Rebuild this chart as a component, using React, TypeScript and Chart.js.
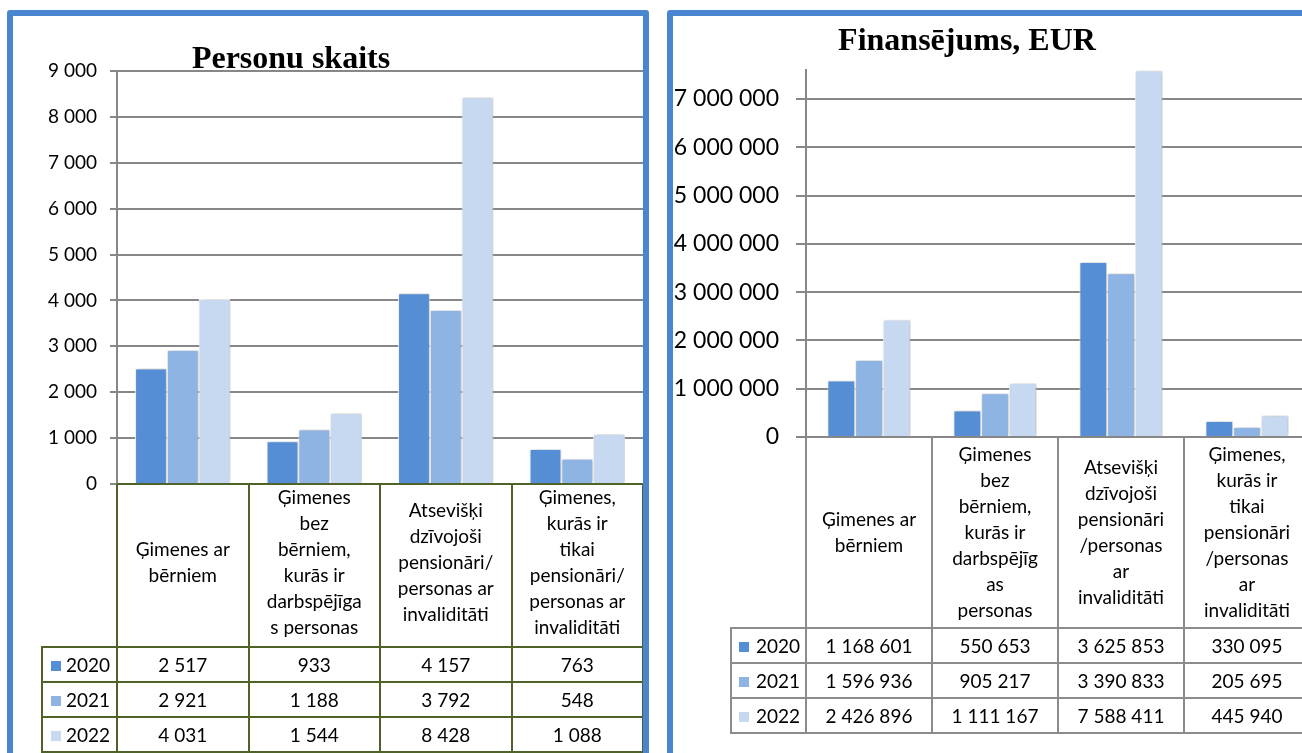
import React, { useEffect, useRef } from "react";
import { Chart, registerables } from "chart.js";

Chart.register(...registerables);

// ---------- DATA ----------
const years = ["2020", "2021", "2022"];
const seriesColors = ["#558ED5", "#8EB4E3", "#C6D9F1"];

const personsCategories: string[][] = [
  ["Ģimenes ar", "bērniem"],
  ["Ģimenes", "bez", "bērniem,", "kurās ir", "darbspējīga", "s personas"],
  ["Atsevišķi", "dzīvojoši", "pensionāri/", "personas ar", "invaliditāti"],
  ["Ģimenes,", "kurās ir", "tikai", "pensionāri/", "personas ar", "invaliditāti"],
];
const persons2020 = [2517, 933, 4157, 763];
const persons2021 = [2921, 1188, 3792, 548];
const persons2022 = [4031, 1544, 8428, 1088];
const personsAxisMax = 9000;
const personsTicks = [0, 1000, 2000, 3000, 4000, 5000, 6000, 7000, 8000, 9000];

const fundingCategories: string[][] = [
  ["Ģimenes ar", "bērniem"],
  ["Ģimenes", "bez", "bērniem,", "kurās ir", "darbspējīg", "as", "personas"],
  ["Atsevišķi", "dzīvojoši", "pensionāri", "/personas", "ar", "invaliditāti"],
  ["Ģimenes,", "kurās ir", "tikai", "pensionāri", "/personas", "ar", "invaliditāti"],
];
const funding2020 = [1168601, 550653, 3625853, 330095];
const funding2021 = [1596936, 905217, 3390833, 205695];
const funding2022 = [2426896, 1111167, 7588411, 445940];
const fundingAxisMax = 7600000;
const fundingTicks = [0, 1000000, 2000000, 3000000, 4000000, 5000000, 6000000, 7000000];

const personsTitle = "Personu skaits";
const fundingTitle = "Finansējums, EUR";

// ---------- HELPERS ----------
const fmt = (v: number) => String(Math.round(v)).replace(/\B(?=(\d{3})+(?!\d))/g, " ");
const FONT = "Lato";

const shadowPlugin = {
  id: "barShadow",
  beforeDatasetsDraw(chart: any) {
    const ctx = chart.ctx;
    ctx.save();
    ctx.shadowColor = "rgba(0,0,0,0.28)";
    ctx.shadowBlur = 4;
    ctx.shadowOffsetX = 1;
    ctx.shadowOffsetY = 0;
  },
  afterDatasetsDraw(chart: any) {
    chart.ctx.restore();
  },
};

const tablePlugin = {
  id: "dataTable",
  afterDraw(chart: any, _args: any, o: any) {
    const ctx = chart.ctx;
    const xs = chart.scales.x;
    const area = chart.chartArea;
    const n = o.headers.length;
    const w = (area.right - area.left) / n;
    const bounds: number[] = [];
    for (let i = 0; i <= n; i++) bounds.push(xs.getPixelForValue(0) - w / 2 + i * w);
    const top = area.bottom;
    const hb = o.headerBottom;
    const rh = o.rowHeight;
    const rows = o.rows.length;
    const bottom = hb + rh * rows;

    ctx.save();
    ctx.strokeStyle = o.lineColor;
    ctx.lineWidth = 2;
    const line = (x1: number, y1: number, x2: number, y2: number) => {
      ctx.beginPath();
      ctx.moveTo(x1, y1);
      ctx.lineTo(x2, y2);
      ctx.stroke();
    };
    bounds.forEach((x) => line(Math.round(x), top, Math.round(x), bottom + 1));
    line(o.legendLeft, hb - 1, o.legendLeft, bottom + 1);
    if (o.drawTop) line(area.left, top, area.right, top);
    for (let r = 0; r <= rows; r++) line(o.legendLeft - 1, hb + rh * r, area.right, hb + rh * r);

    ctx.fillStyle = "#000";
    ctx.font = `${o.fontSize}px ${FONT}`;
    ctx.textAlign = "center";
    ctx.textBaseline = "middle";
    const hc = (top + hb) / 2 + o.headerShift;
    o.headers.forEach((lines: string[], i: number) => {
      const cx = xs.getPixelForValue(i);
      const y0 = hc - ((lines.length - 1) * o.lineHeight) / 2;
      lines.forEach((t: string, k: number) => ctx.fillText(t, cx, y0 + k * o.lineHeight));
    });
    o.rows.forEach((vals: number[], r: number) => {
      const cy = hb + rh * r + rh / 2 + 1;
      ctx.fillStyle = o.colors[r];
      ctx.fillRect(o.swatchX, Math.round(cy - 5), 10, 10);
      ctx.fillStyle = "#000";
      ctx.textAlign = "left";
      ctx.fillText(o.labels[r], o.labelX, cy);
      ctx.textAlign = "center";
      vals.forEach((v: number, i: number) => ctx.fillText(fmt(v), xs.getPixelForValue(i), cy));
    });
    ctx.restore();
  },
};

const titlePlugin = {
  id: "fixedTitle",
  afterDraw(chart: any, _args: any, o: any) {
    const ctx = chart.ctx;
    ctx.save();
    ctx.fillStyle = "#000";
    ctx.font = `bold 32px "Liberation Serif", "Times New Roman", serif`;
    ctx.textAlign = "center";
    ctx.textBaseline = "alphabetic";
    ctx.fillText(o.text, o.x, o.y);
    ctx.restore();
  },
};

function buildChart(canvas: HTMLCanvasElement, cfg: any) {
  return new Chart(canvas, {
    type: "bar",
    data: {
      labels: cfg.categories.map((c: string[]) => c.join(" ")),
      datasets: cfg.series.map((s: number[], i: number) => ({
        label: years[i],
        data: s,
        backgroundColor: seriesColors[i],
        borderColor: "#ffffff",
        borderWidth: 1,
        categoryPercentage: cfg.catPct,
        barPercentage: 1,
      })),
    },
    options: {
      animation: false,
      responsive: false,
      maintainAspectRatio: false,
      layout: { padding: cfg.padding },
      plugins: {
        legend: { display: false },
        tooltip: { enabled: false },
        title: { display: false },
        dataTable: cfg.table,
        fixedTitle: cfg.title,
      } as any,
      scales: {
        x: { display: false, grid: { display: false } },
        y: {
          min: 0,
          max: cfg.max,
          ticks: {
            autoSkip: false,
            color: "#000",
            font: { family: FONT, size: cfg.tickSize },
            padding: cfg.tickPadding,
            callback: (v: any) => fmt(Number(v)),
          },
          afterBuildTicks: (s: any) => {
            s.ticks = cfg.ticks.map((v: number) => ({ value: v }));
          },
          afterFit: (s: any) => {
            s.width = cfg.axisWidth;
          },
          grid: { color: "#878787", lineWidth: 2, tickLength: cfg.tickLength, drawTicks: true },
          border: { display: true, color: "#878787", width: 2 },
        },
      },
    } as any,
    plugins: [shadowPlugin, tablePlugin, titlePlugin],
  });
}

function ChartCanvas({ width, height, left, cfg }: any) {
  const ref = useRef<HTMLCanvasElement>(null);
  useEffect(() => {
    if (!ref.current) return;
    const c = buildChart(ref.current, cfg);
    return () => c.destroy();
  }, []);
  return (
    <canvas
      ref={ref}
      width={width}
      height={height}
      style={{ position: "absolute", left, top: 0, width, height }}
    />
  );
}

export default function App() {
  const leftCfg = {
    categories: personsCategories,
    series: [persons2020, persons2021, persons2022],
    max: personsAxisMax,
    ticks: personsTicks,
    catPct: 0.725,
    tickSize: 19,
    tickPadding: 13,
    tickLength: 7,
    axisWidth: 117,
    padding: { left: 0, top: 71, right: 12, bottom: 753 - 484 },
    table: {
      headers: personsCategories,
      rows: [persons2020, persons2021, persons2022],
      labels: years,
      colors: seriesColors,
      headerBottom: 647,
      rowHeight: 35,
      lineColor: "#4F6228",
      legendLeft: 42,
      swatchX: 51,
      labelX: 66,
      fontSize: 19,
      lineHeight: 26,
      headerShift: -3,
      drawTop: true,
    },
    title: { text: personsTitle, x: 291, y: 68 },
  };
  const off = 660;
  const rightCfg = {
    categories: fundingCategories,
    series: [funding2020, funding2021, funding2022],
    max: fundingAxisMax,
    ticks: fundingTicks,
    catPct: 0.66,
    tickSize: 23,
    tickPadding: 17,
    tickLength: 10,
    axisWidth: 806 - off,
    padding: { left: 0, top: 70, right: 30, bottom: 753 - 437 },
    table: {
      headers: fundingCategories,
      rows: [funding2020, funding2021, funding2022],
      labels: years,
      colors: seriesColors,
      headerBottom: 628,
      rowHeight: 35,
      lineColor: "#8C8C8C",
      legendLeft: 731 - off,
      swatchX: 739 - off,
      labelX: 756 - off,
      fontSize: 19,
      lineHeight: 26,
      headerShift: 0,
      drawTop: false,
    },
    title: { text: fundingTitle, x: 967 - off, y: 50 },
  };
  const border = "6px solid #4A86D0";
  return (
    <div
      style={{
        position: "fixed",
        left: 0,
        top: 0,
        width: 1302,
        height: 753,
        overflow: "hidden",
        background: "#fff",
      }}
    >
      <ChartCanvas width={655} height={753} left={0} cfg={leftCfg} />
      <ChartCanvas width={680} height={753} left={off} cfg={rightCfg} />
      <div
        style={{
          position: "absolute",
          left: 7,
          top: 10,
          width: 642,
          height: 800,
          border,
          borderRadius: 3,
          boxSizing: "border-box",
          pointerEvents: "none",
        }}
      />
      <div
        style={{
          position: "absolute",
          left: 667,
          top: 10,
          width: 700,
          height: 800,
          border,
          borderRadius: 3,
          boxSizing: "border-box",
          pointerEvents: "none",
        }}
      />
    </div>
  );
}
